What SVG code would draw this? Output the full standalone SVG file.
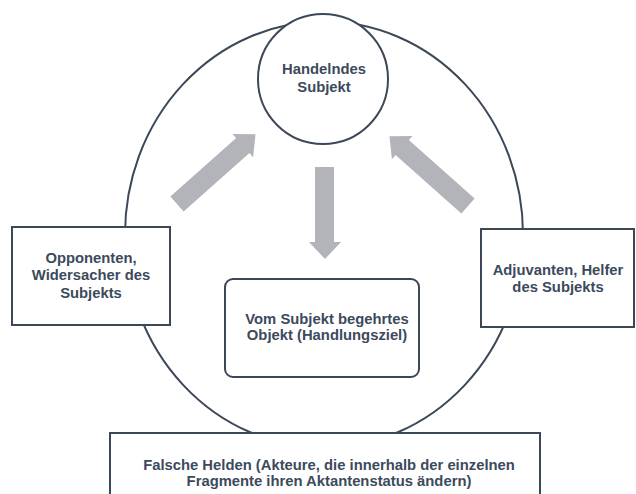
<svg xmlns="http://www.w3.org/2000/svg" width="636" height="494" viewBox="0 0 636 494">
<style>
.ln{fill:none;stroke:#3c4858;stroke-width:2}
.bx{fill:#ffffff;stroke:#3c4858;stroke-width:2}
.t{font-family:"Liberation Sans",Arial,sans-serif;font-weight:bold;font-size:14.8px;fill:#3c4a5c;text-anchor:middle}
.ar{fill:#b2b4ba}
</style>
<defs>
<path id="arr" d="M0,-10 L88,-10 L88,-15.5 L105,0 L88,15.5 L88,10 L0,10 Z"/>
</defs>
<rect width="636" height="494" fill="#ffffff"/>
<g id="ring">
<ellipse class="ln" cx="324" cy="234.5" rx="199" ry="213"/>
</g>
<g id="connectors">
<use href="#arr" class="ar" transform="translate(177,204) rotate(-41.6)"/>
<use href="#arr" class="ar" transform="translate(468,206) rotate(-138.4)"/>
<path class="ar" d="M315,167 L334,167 L334,242 L341,242 L325,259 L309,242 L315,242 Z"/>
</g>
<g id="subjekt">
<circle class="bx" cx="323" cy="79" r="65"/>
<text class="t" x="324" y="74">Handelndes</text>
<text class="t" x="324" y="92">Subjekt</text>
</g>
<g id="opponenten">
<rect class="bx" x="12" y="227" width="158" height="98"/>
<text class="t" x="91" y="263">Opponenten,</text>
<text class="t" x="91" y="280">Widersacher des</text>
<text class="t" x="91" y="298">Subjekts</text>
</g>
<g id="adjuvanten">
<rect class="bx" x="481" y="229" width="153" height="98"/>
<text class="t" x="558" y="275">Adjuvanten, Helfer</text>
<text class="t" x="558" y="292">des Subjekts</text>
</g>
<g id="objekt">
<rect class="bx" x="225" y="279" width="194" height="98" rx="8"/>
<text class="t" x="327" y="324">Vom Subjekt begehrtes</text>
<text class="t" x="327" y="340">Objekt (Handlungsziel)</text>
</g>
<g id="falsche">
<rect class="bx" x="110" y="433" width="430" height="80"/>
<text class="t" x="329" y="470">Falsche Helden (Akteure, die innerhalb der einzelnen</text>
<text class="t" x="329" y="486">Fragmente ihren Aktantenstatus ändern)</text>
</g>
</svg>
